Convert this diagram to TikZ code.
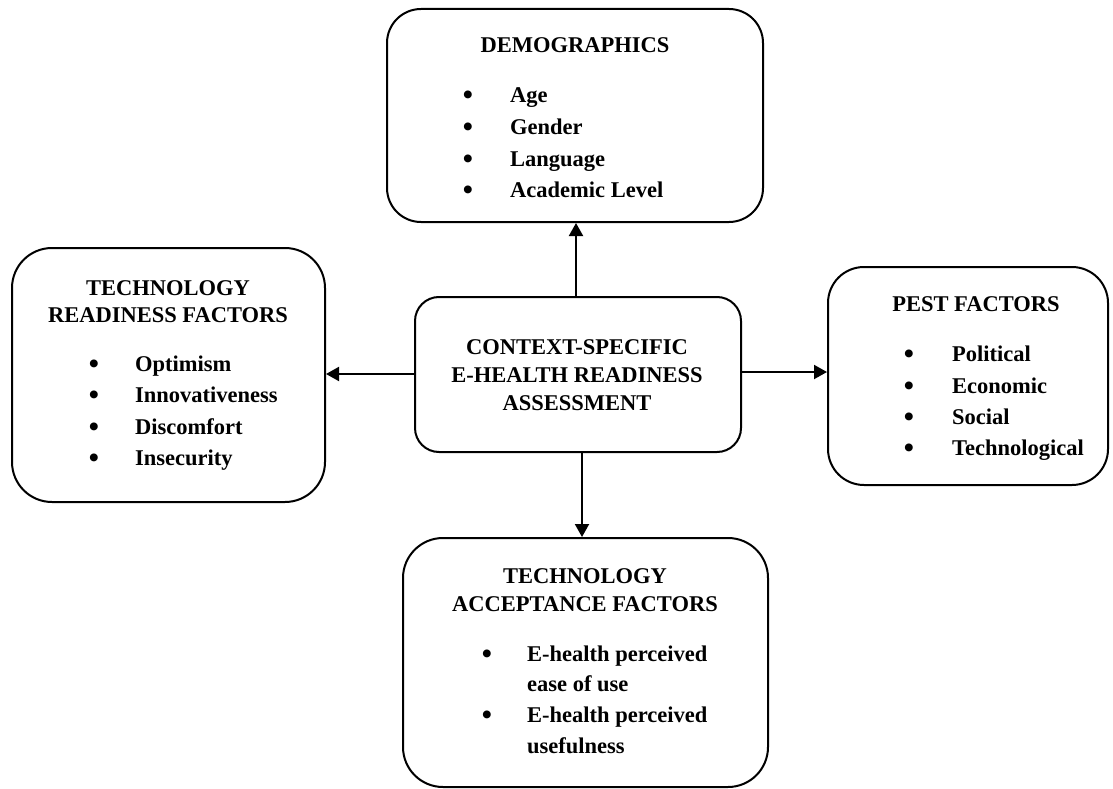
\documentclass[tikz,border=0pt]{standalone}
\usepackage{fontspec}
\setmainfont{Liberation Serif}
\usetikzlibrary{arrows.meta}
\begin{document}
\begin{tikzpicture}[x=1pt,y=-1pt,
  box/.style={draw, line width=2pt, rounded corners=#1, inner sep=0pt},
  txt/.style={inner sep=0pt, font=\fontsize{22.5}{26}\selectfont\bfseries},
  ttl/.style={txt, anchor=base},
  itm/.style={txt, anchor=base west},
  bul/.style={inner sep=0pt, anchor=base, yshift=-2pt, font=\fontsize{29}{30}\selectfont\bfseries},
  arr/.style={line width=2pt, -{Triangle[length=13pt,width=14pt]}}
]
\fill[white] (0,0) rectangle (1113,789);
\useasboundingbox (0,0) rectangle (1113,789);

% boxes
\node[box=34pt, minimum width=376pt, minimum height=213pt] (demo) at (575,115.5) {};
\node[box=40pt, minimum width=313pt, minimum height=254pt] (trf) at (168.5,375) {};
\node[box=24pt, minimum width=326pt, minimum height=155pt] (ctr) at (578,374.5) {};
\node[box=36pt, minimum width=280pt, minimum height=218pt] (pest) at (968,376) {};
\node[box=40pt, minimum width=365pt, minimum height=249pt] (taf) at (585.5,662.5) {};

% demographics
\node[ttl] (demoT) at (575,53) {DEMOGRAPHICS};
\node[bul] (db1) at (468,103) {\textbullet};
\node[itm] (d1) at (510,103) {Age};
\node[bul] (db2) at (468,134.5) {\textbullet};
\node[itm] (d2) at (510,134.5) {Gender};
\node[bul] (db3) at (468,166) {\textbullet};
\node[itm] (d3) at (510,166) {Language};
\node[bul] (db4) at (468,197.5) {\textbullet};
\node[itm] (d4) at (510,197.5) {Academic Level};

% technology readiness
\node[ttl] (trfT1) at (168,295) {TECHNOLOGY};
\node[ttl] (trfT2) at (168,322) {READINESS FACTORS};
\node[bul] (tb1) at (94,371) {\textbullet};
\node[itm] (t1) at (135,371) {Optimism};
\node[bul] (tb2) at (94,402.5) {\textbullet};
\node[itm] (t2) at (135,402.5) {Innovativeness};
\node[bul] (tb3) at (94,434) {\textbullet};
\node[itm] (t3) at (135,434) {Discomfort};
\node[bul] (tb4) at (94,465) {\textbullet};
\node[itm] (t4) at (135,465) {Insecurity};

% center
\node[ttl] (c1) at (577,354) {CONTEXT-SPECIFIC};
\node[ttl] (c2) at (577,382.5) {E-HEALTH READINESS};
\node[ttl] (c3) at (577,410.5) {ASSESSMENT};

% pest
\node[ttl] (pestT) at (976,311) {PEST FACTORS};
\node[bul] (pb1) at (909,361.5) {\textbullet};
\node[itm] (p1) at (952,361.5) {Political};
\node[bul] (pb2) at (909,393) {\textbullet};
\node[itm] (p2) at (952,393) {Economic};
\node[bul] (pb3) at (909,424) {\textbullet};
\node[itm] (p3) at (952,424) {Social};
\node[bul] (pb4) at (909,455.5) {\textbullet};
\node[itm] (p4) at (952,455.5) {Technological};

% technology acceptance
\node[ttl] (tafT1) at (585,583) {TECHNOLOGY};
\node[ttl] (tafT2) at (585,611.5) {ACCEPTANCE FACTORS};
\node[bul] (ab1) at (487,661) {\textbullet};
\node[itm] (a1) at (527,661) {E-health perceived};
\node[itm] (a2) at (527,691.5) {ease of use};
\node[bul] (ab3) at (487,722.5) {\textbullet};
\node[itm] (a3) at (527,722.5) {E-health perceived};
\node[itm] (a4) at (527,753) {usefulness};

% connectors
\draw[arr] ([xshift=-2pt]ctr.north) -- ([xshift=-2pt]ctr.north |- demo.south);
\draw[arr] ([yshift=0.5pt]ctr.west) -- ([yshift=0.5pt]ctr.west -| trf.east);
\draw[arr] ([yshift=2.5pt]ctr.east) -- ([yshift=2.5pt]ctr.east -| pest.west);
\draw[arr] ([xshift=4pt]ctr.south) -- ([xshift=4pt]ctr.south |- taf.north);
\end{tikzpicture}
\end{document}
